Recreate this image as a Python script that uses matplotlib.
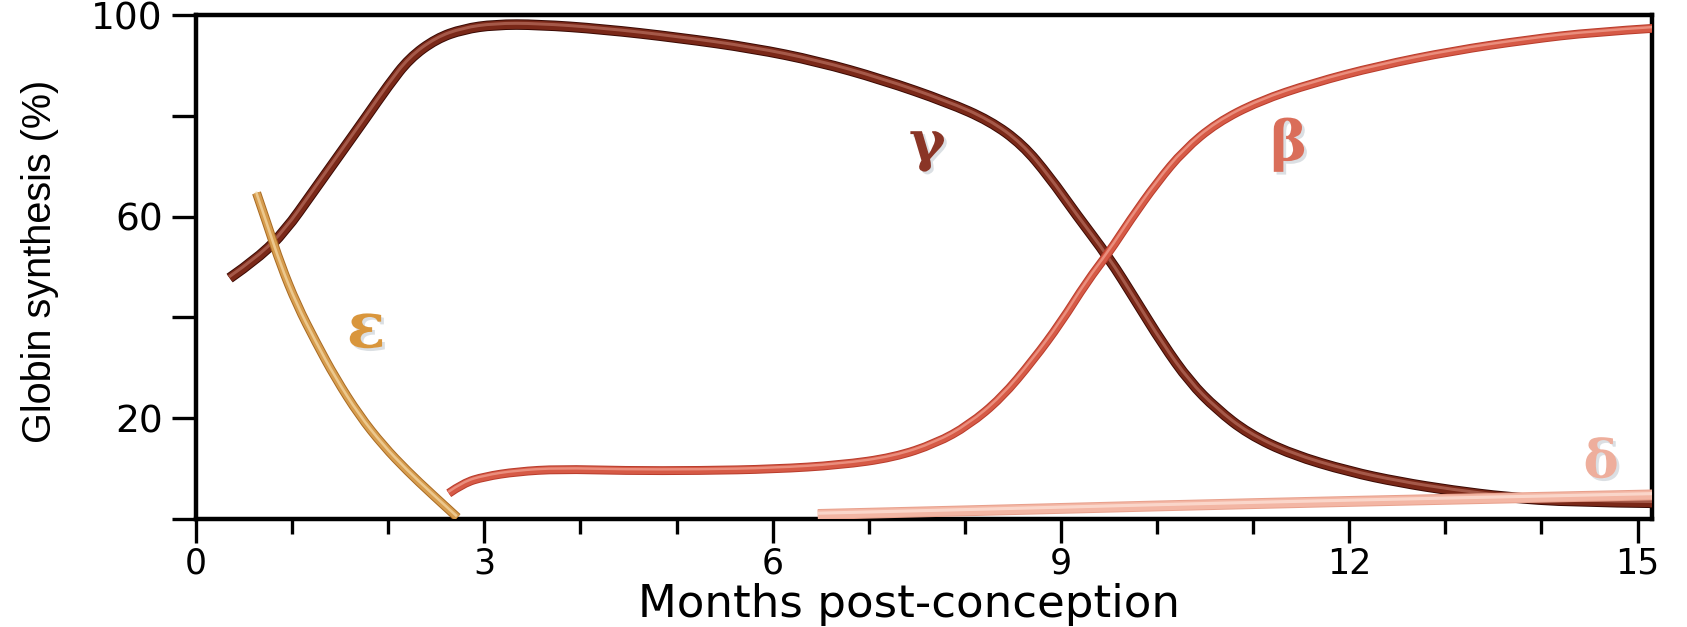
import matplotlib
matplotlib.use("Agg")
import matplotlib.pyplot as plt
import matplotlib.patheffects as pe
from matplotlib.path import Path
from matplotlib.patches import PathPatch
from matplotlib import font_manager

# ---------------- data ----------------
gamma_x = [0.35, 0.65, 0.93, 1.21, 1.49, 1.77, 2.0, 2.22, 2.5, 2.78, 3.11, 3.56, 4.23, 5.02,
           5.8, 6.47, 7.14, 7.82, 8.26, 8.6, 8.88, 9.16, 9.5, 9.78, 10.06, 10.34, 10.62,
           10.95, 11.4, 12.0, 12.52, 13.08, 13.64, 14.31, 15.2]
gamma_y = [47.8, 51.8, 57.2, 64.7, 72.2, 79.7, 86.0, 91.4, 95.3, 97.2, 98.1, 98.1, 97.2, 95.5,
           93.4, 90.8, 87.2, 82.7, 79.0, 74.3, 67.9, 60.4, 51.8, 43.3, 34.7, 27.2, 21.8,
           16.9, 12.8, 9.4, 7.3, 5.6, 4.3, 3.4, 3.2]

beta_x = [2.63, 2.78, 3.0, 3.34, 3.78, 4.46, 5.24, 6.02, 6.7, 7.26, 7.7, 8.04, 8.38, 8.71,
          9.0, 9.27, 9.5, 9.72, 10.0, 10.28, 10.62, 11.06, 11.62, 12.3, 13.08, 13.86,
          14.54, 15.2]
beta_y = [5.1, 7.1, 8.4, 9.4, 9.9, 9.6, 9.6, 9.9, 10.7, 12.2, 15.0, 18.6, 24.0, 31.5,
          39.0, 47.1, 52.9, 59.3, 66.8, 73.2, 78.6, 82.9, 86.5, 89.9, 92.9, 95.1,
          96.6, 97.4]

epsilon_x = [0.63, 0.75, 0.88, 1.05, 1.25, 1.45, 1.7, 1.95, 2.2, 2.45, 2.72]
epsilon_y = [64.7, 58.0, 50.5, 42.5, 35.0, 28.0, 20.5, 14.5, 9.5, 5.0, 0.3]

delta_x = [6.47, 8.0, 10.0, 12.0, 14.0, 15.2]
delta_y = [0.9, 1.6, 2.6, 3.5, 4.3, 4.8]

x_major = [0, 3, 6, 9, 12, 15]
x_minor = list(range(0, 16))
y_ticks = [0, 20, 40, 60, 80, 100]
y_ticklabels = ["", "20", "", "60", "", "100"]

labels = ["γ", "β", "ε", "δ"]
label_x = [7.61, 11.37, 1.77, 14.62]
label_y = [74.3, 74.3, 37.5, 11.1]

# ---------------- fonts ----------------
names = {f.name for f in font_manager.fontManager.ttflist}
ylab_family = ["Liberation Sans Narrow"] if "Liberation Sans Narrow" in names else ["Liberation Sans"]

fig = plt.figure(figsize=(16.87, 6.27), dpi=100)
ax = fig.add_axes([196 / 1687, 1 - 519 / 627, (1652 - 196) / 1687, (519 - 15) / 627])


def smooth_path(x, y):
    """Quadratic Bezier path using the read points as control points."""
    pts = list(zip(x, y))
    verts = [pts[0]]
    codes = [Path.MOVETO]
    for i in range(1, len(pts) - 1):
        mid = ((pts[i][0] + pts[i + 1][0]) / 2, (pts[i][1] + pts[i + 1][1]) / 2)
        if i == len(pts) - 2:
            mid = pts[-1]
        verts += [pts[i], mid]
        codes += [Path.CURVE3, Path.CURVE3]
    return Path(verts, codes)


def tube(x, y, lw, dark, mid, light, z):
    p = PathPatch(smooth_path(x, y), fill=False, edgecolor=mid, lw=lw, zorder=z,
                  capstyle="butt", joinstyle="round", transform=ax.transData)
    p.set_path_effects([pe.Stroke(linewidth=lw + 1.4, foreground=dark),
                        pe.Stroke(linewidth=lw, foreground=mid),
                        pe.Stroke(linewidth=lw * 0.35, foreground=light, offset=(-0.4, 0.9),
                                  alpha=0.75)])
    ax.add_patch(p)


tube(gamma_x, gamma_y, 6.2, "#3a0a04", "#7a2818", "#b46a5a", 3)
tube(beta_x, beta_y, 5.0, "#b83c2c", "#d65a46", "#f2a090", 4)
tube(delta_x, delta_y, 6.4, "#e8a08c", "#f3b6a4", "#fde2d8", 5)
tube(epsilon_x, epsilon_y, 5.2, "#a86a22", "#d69c4e", "#f4d8a4", 6)

label_colors = ["#8a3526", "#da6e5a", "#d9963c", "#eeae9c"]
label_sizes = [40, 40, 46, 38]
for t, lx, ly, c, s in zip(labels, label_x, label_y, label_colors, label_sizes):
    ax.text(lx, ly, t, color=c, fontsize=s, fontweight="bold", family="DejaVu Serif",
            ha="center", va="center", zorder=7,
            path_effects=[pe.withSimplePatchShadow(offset=(2, -2), shadow_rgbFace="#9aa6b0",
                                                   alpha=0.35)])

ax.set_xlim(0, 15.15)
ax.set_ylim(0, 100)

for s in ax.spines.values():
    s.set_linewidth(3.2)
    s.set_color("black")

ax.set_xticks(x_major)
ax.set_xticklabels([str(v) for v in x_major])
ax.set_xticks(x_minor, minor=True)
ax.set_yticks(y_ticks)
ax.set_yticklabels(y_ticklabels)

ax.tick_params(axis="x", which="major", direction="out", length=17, width=2.4,
               labelsize=25, pad=3)
ax.tick_params(axis="x", which="minor", direction="out", length=11, width=2.4)
ax.tick_params(axis="y", which="major", direction="out", length=17, width=2.4,
               labelsize=27, pad=7)
for lab in ax.get_xticklabels() + ax.get_yticklabels():
    lab.set_family("DejaVu Sans")

ax.set_xlabel("Months post-conception", fontsize=32.5, family="DejaVu Sans")
ax.xaxis.set_label_coords(0.49, -0.127)
ax.set_ylabel("Globin synthesis (%)", fontsize=28.5, family=ylab_family)
ax.yaxis.set_label_coords(-0.107, 0.512)
ax.yaxis.label.set_verticalalignment("center")

fig.savefig("out.png", dpi=100)
